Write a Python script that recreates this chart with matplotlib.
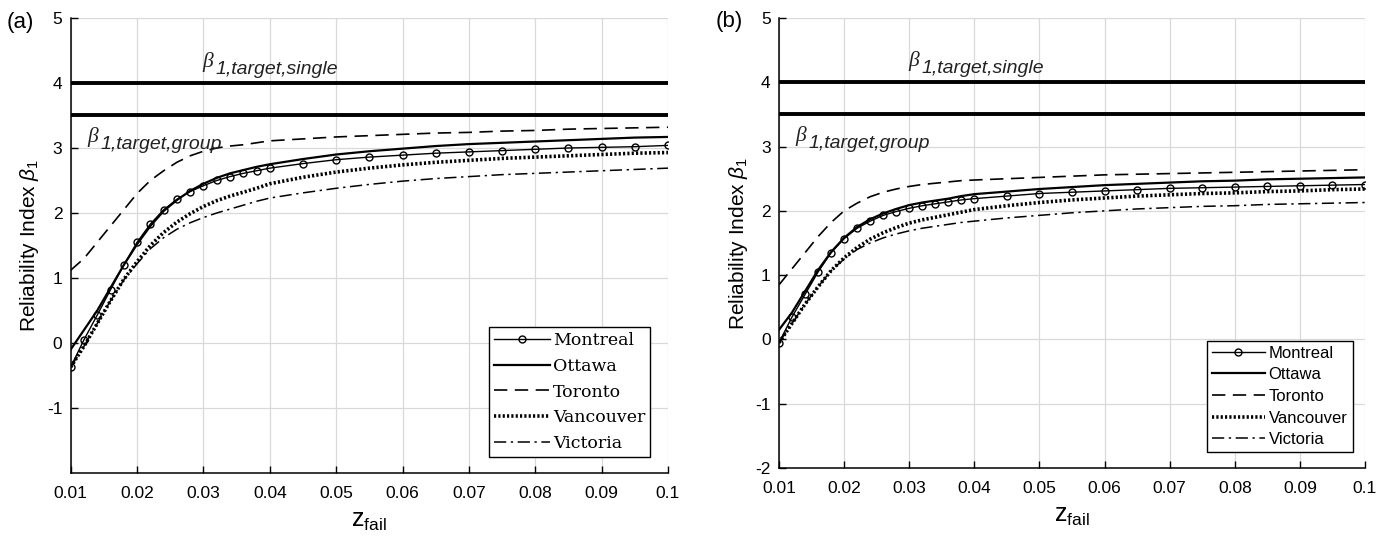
import matplotlib.pyplot as plt

# z_fail grid (fine steps up to 0.04, coarser after)
z = [0.010, 0.012, 0.014, 0.016, 0.018, 0.020, 0.022, 0.024, 0.026, 0.028,
     0.030, 0.032, 0.034, 0.036, 0.038, 0.040, 0.045, 0.050, 0.055, 0.060,
     0.065, 0.070, 0.075, 0.080, 0.085, 0.090, 0.095, 0.100]

# panel (a)
montreal_a = [-0.37, 0.05, 0.43, 0.82, 1.20, 1.55, 1.83, 2.05, 2.21, 2.33,
              2.42, 2.50, 2.56, 2.61, 2.65, 2.69, 2.76, 2.82, 2.86, 2.89,
              2.92, 2.94, 2.96, 2.98, 3.00, 3.01, 3.02, 3.04]
ottawa_a = [-0.10, 0.20, 0.50, 0.85, 1.20, 1.52, 1.80, 2.03, 2.20, 2.34,
            2.45, 2.54, 2.61, 2.66, 2.71, 2.75, 2.83, 2.90, 2.95, 2.99,
            3.03, 3.06, 3.08, 3.10, 3.12, 3.14, 3.16, 3.17]
toronto_a = [1.12, 1.30, 1.55, 1.80, 2.05, 2.30, 2.50, 2.65, 2.78, 2.88,
             2.95, 3.00, 3.03, 3.05, 3.08, 3.11, 3.14, 3.17, 3.19, 3.21,
             3.23, 3.24, 3.26, 3.27, 3.29, 3.30, 3.31, 3.32]
vancouver_a = [-0.37, -0.05, 0.30, 0.65, 0.98, 1.25, 1.50, 1.70, 1.86, 1.99,
               2.10, 2.19, 2.26, 2.32, 2.38, 2.45, 2.55, 2.63, 2.69, 2.74,
               2.78, 2.81, 2.84, 2.86, 2.88, 2.90, 2.92, 2.93]
victoria_a = [-0.37, -0.05, 0.30, 0.65, 0.97, 1.22, 1.45, 1.62, 1.75, 1.85,
              1.93, 2.00, 2.06, 2.12, 2.18, 2.23, 2.31, 2.38, 2.44, 2.49,
              2.53, 2.56, 2.59, 2.61, 2.63, 2.65, 2.67, 2.69]

# panel (b)
montreal_b = [-0.05, 0.35, 0.70, 1.05, 1.35, 1.57, 1.73, 1.84, 1.93, 1.99,
              2.04, 2.08, 2.11, 2.14, 2.17, 2.19, 2.23, 2.27, 2.29, 2.31,
              2.33, 2.35, 2.36, 2.37, 2.38, 2.39, 2.40, 2.41]
ottawa_b = [0.15, 0.42, 0.75, 1.08, 1.36, 1.58, 1.75, 1.87, 1.96, 2.03,
            2.09, 2.13, 2.16, 2.19, 2.23, 2.26, 2.30, 2.34, 2.37, 2.40,
            2.42, 2.44, 2.46, 2.47, 2.49, 2.50, 2.51, 2.52]
toronto_b = [0.85, 1.10, 1.35, 1.60, 1.82, 2.00, 2.12, 2.22, 2.29, 2.34,
             2.38, 2.41, 2.43, 2.45, 2.47, 2.48, 2.50, 2.52, 2.54, 2.56,
             2.57, 2.58, 2.59, 2.60, 2.61, 2.62, 2.63, 2.64]
vancouver_b = [-0.05, 0.25, 0.55, 0.82, 1.07, 1.27, 1.43, 1.56, 1.66, 1.74,
               1.81, 1.86, 1.90, 1.94, 1.98, 2.02, 2.08, 2.13, 2.17, 2.20,
               2.23, 2.25, 2.27, 2.28, 2.30, 2.31, 2.33, 2.34]
victoria_b = [-0.05, 0.25, 0.55, 0.82, 1.07, 1.25, 1.40, 1.50, 1.58, 1.64,
              1.69, 1.73, 1.76, 1.79, 1.82, 1.84, 1.89, 1.93, 1.97, 2.00,
              2.03, 2.05, 2.07, 2.08, 2.10, 2.11, 2.12, 2.13]

beta_single = 4.0
beta_group = 3.5
xticks = [0.01, 0.02, 0.03, 0.04, 0.05, 0.06, 0.07, 0.08, 0.09, 0.1]
xticklabels = ['0.01', '0.02', '0.03', '0.04', '0.05', '0.06', '0.07', '0.08', '0.09', '0.1']

plt.rcParams['font.family'] = ['Liberation Sans', 'DejaVu Sans']
plt.rcParams['mathtext.fontset'] = 'custom'
plt.rcParams['mathtext.rm'] = 'Liberation Sans'
plt.rcParams['mathtext.it'] = 'Liberation Sans:italic'
plt.rcParams['mathtext.bf'] = 'Liberation Sans:bold'

fig = plt.figure(figsize=(13.81, 5.42), dpi=100)
ax1 = fig.add_axes([0.0512, 0.1273, 0.4325, 0.8395])
ax2 = fig.add_axes([0.5641, 0.1365, 0.4243, 0.8303])


def beta_label(ax, x, y, sub):
    # beta glyph plus a large italic subscript set a bit lower
    ax.text(x, y, '\u03b2', fontsize=15.5, fontstyle='italic', family='Liberation Serif',
            va='baseline', color='#222222')
    ax.annotate(sub, xy=(x, y), xytext=(10, -5), textcoords='offset points',
                fontsize=14, fontstyle='italic', va='baseline', color='#222222')


def draw_panel(ax, series, yticks, legend_font, legend_box, spacing):
    mon, ott, tor, van, vic = series
    ax.plot(z, mon, '-', color='k', lw=1.0, marker='o', ms=5, mfc='none', mew=1.0, label='Montreal')
    ax.plot(z, ott, '-', color='k', lw=1.6, label='Ottawa')
    ax.plot(z, tor, color='k', lw=1.2, ls=(0, (8, 4.5)), label='Toronto')
    ax.plot(z, van, color='k', lw=2.6, ls=(0, (0.6, 0.6)), label='Vancouver')
    ax.plot(z, vic, color='k', lw=1.1, ls=(0, (8, 3, 1.5, 3)), label='Victoria')

    ax.axhline(beta_single, color='k', lw=2.8)
    ax.axhline(beta_group, color='k', lw=2.8)
    beta_label(ax, 0.0298, 4.25, '1,target,single')
    beta_label(ax, 0.01246, 3.09, '1,target,group')

    ax.set_xlim(0.01, 0.1)
    ax.set_ylim(-2, 5)
    ax.set_xticks(xticks)
    ax.set_xticklabels(xticklabels)
    ax.set_yticks(yticks)
    ax.set_yticklabels([str(t) for t in yticks])
    ax.grid(True, color='#d9d9d9', lw=0.9)
    ax.set_axisbelow(True)
    ax.tick_params(direction='in', labelsize=12.5, length=5, width=1)
    ax.tick_params(axis='x', pad=9)
    ax.tick_params(axis='y', pad=6)
    for s in ['top', 'right']:
        ax.spines[s].set_visible(False)
    for s in ['left', 'bottom']:
        ax.spines[s].set_linewidth(1.1)
    ax.set_ylabel(r'Reliability Index $\mathit{\beta}_1$', fontsize=15, labelpad=4)
    ax.set_xlabel(r'z$_{\mathrm{fail}}$', fontsize=18, labelpad=6)

    leg = ax.legend(loc='lower left', bbox_to_anchor=legend_box, mode='expand',
                    prop=legend_font, frameon=True, fancybox=False,
                    edgecolor='k', framealpha=1, handlelength=3.2,
                    handletextpad=0.2, borderpad=0.3, labelspacing=spacing,
                    borderaxespad=0)
    leg.get_frame().set_linewidth(1.0)


draw_panel(ax1, [montreal_a, ottawa_a, toronto_a, vancouver_a, victoria_a],
           [-1, 0, 1, 2, 3, 4, 5],
           {'family': 'DejaVu Serif', 'size': 12.5},
           (0.70, 0.035, 0.27, 0.285), 0.5)
draw_panel(ax2, [montreal_b, ottawa_b, toronto_b, vancouver_b, victoria_b],
           [-2, -1, 0, 1, 2, 3, 4, 5],
           {'family': 'Liberation Sans', 'size': 12},
           (0.73, 0.035, 0.25, 0.26), 0.4)

fig.text(0.005, 0.959, '(a)', fontsize=16, va='center')
fig.text(0.518, 0.961, '(b)', fontsize=16, va='center')

fig.savefig('out.png', dpi=100)
